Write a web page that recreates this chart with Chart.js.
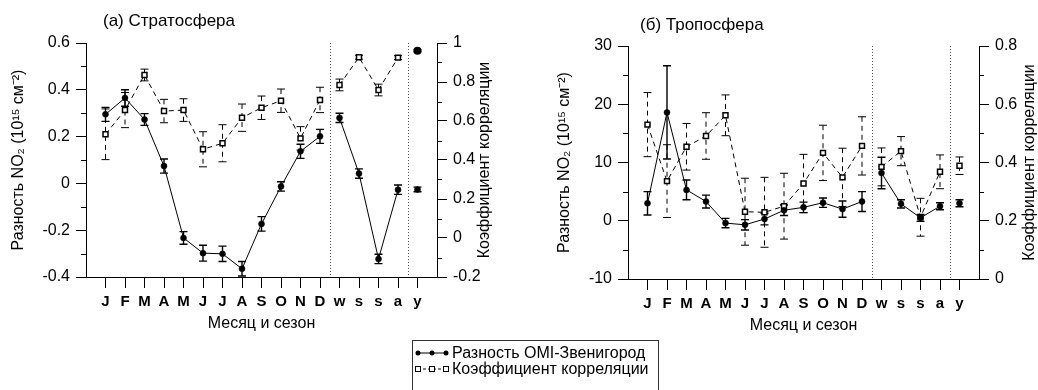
<!DOCTYPE html>
<html>
<head>
<meta charset="utf-8">
<script src="https://cdn.jsdelivr.net/npm/chart.js@4"></script>
<style>
  body { margin: 0; background: #fff; width: 1038px; height: 390px; position: relative; overflow: hidden;
         font-family: Arial, "Liberation Sans", sans-serif; }
  canvas { position: absolute; top: 0; }
  #left { left: 0; }
  #right { left: 546px; }
  #legend { position: absolute; left: 412px; top: 340px; width: 247px; height: 60px; border: 1px solid #333;
            box-sizing: border-box; padding-top: 4px; font-size: 16px; line-height: 16px; color: #000; }
  #legend div { display: flex; align-items: center; white-space: nowrap; }
  #legend svg { margin: 0 3px 0 2px; }
</style>
</head>
<body>
<canvas id="left" width="520" height="390"></canvas>
<canvas id="right" width="492" height="390"></canvas>
<div id="legend">
  <div><svg width="34" height="10"><line x1="3" y1="5" x2="31" y2="5" stroke="#000" stroke-width="1"/>
    <circle cx="3" cy="5" r="2.5"/><circle cx="17" cy="5" r="2.5"/><circle cx="31" cy="5" r="2.5"/></svg>Разность OMI-Звенигород</div>
  <div><svg width="34" height="10"><line x1="3" y1="5" x2="31" y2="5" stroke="#000" stroke-width="1" stroke-dasharray="3,2"/>
    <rect x="0.5" y="2.5" width="5" height="5" fill="#fff" stroke="#000"/><rect x="14.5" y="2.5" width="5" height="5" fill="#fff" stroke="#000"/><rect x="28.5" y="2.5" width="5" height="5" fill="#fff" stroke="#000"/></svg>Коэффициент корреляции</div>
</div>
<script>
const FONT = 'Arial, "Liberation Sans", sans-serif';
Chart.defaults.font.family = FONT;
Chart.defaults.color = '#000';

// categories: 12 months, 4 seasons, year
const categories = ['J', 'F', 'M', 'A', 'M', 'J', 'J', 'A', 'S', 'O', 'N', 'D', 'w', 's', 's', 'a', 'y'];
const separators = [12.5, 16.5];

// (a) stratosphere
const stratoDiffMonths = [0.295, 0.365, 0.273, 0.074, -0.233, -0.298, -0.301, -0.365, -0.173, -0.013, 0.137, 0.201];
const stratoDiffMonthsErr = [0.03, 0.035, 0.025, 0.03, 0.027, 0.034, 0.033, 0.031, 0.031, 0.02, 0.03, 0.03];
const stratoDiffSeasons = [0.28, 0.042, -0.323, -0.027];
const stratoDiffSeasonsErr = [0.02, 0.02, 0.02, 0.02];
const stratoDiffYear = -0.026;
const stratoDiffYearErr = 0.01;

const stratoCorrMonths = [0.532, 0.656, 0.836, 0.651, 0.656, 0.455, 0.486, 0.617, 0.668, 0.704, 0.511, 0.708];
const stratoCorrMonthsErr = [0.13, 0.09, 0.03, 0.06, 0.058, 0.09, 0.095, 0.07, 0.06, 0.06, 0.06, 0.065];
const stratoCorrSeasons = [0.785, 0.927, 0.759, 0.925];
const stratoCorrSeasonsErr = [0.03, 0.01, 0.03, 0.01];
const stratoCorrYear = 0.96;
const stratoCorrYearErr = 0.005;

const stratoDiffTicks = [-0.4, -0.2, 0, 0.2, 0.4, 0.6];
const stratoCorrTicks = [-0.2, 0, 0.2, 0.4, 0.6, 0.8, 1];

// (б) troposphere
const tropoDiffMonths = [3.0, 18.6, 5.3, 3.3, -0.4, -0.7, 0.3, 1.8, 2.3, 3.1, 2.0, 3.3];
const tropoDiffMonthsErr = [2.0, 8.0, 1.7, 1.1, 0.8, 0.9, 1.0, 0.9, 0.9, 0.8, 1.4, 1.7];
const tropoDiffSeasons = [8.2, 2.9, 0.5, 2.5];
const tropoDiffSeasonsErr = [2.7, 0.7, 0.6, 0.6];
const tropoDiffYear = 3.0;
const tropoDiffYearErr = 0.6;

const tropoCorrMonths = [0.53, 0.336, 0.454, 0.491, 0.562, 0.231, 0.229, 0.25, 0.328, 0.433, 0.349, 0.457];
const tropoCorrMonthsErr = [0.11, 0.125, 0.08, 0.08, 0.07, 0.115, 0.12, 0.113, 0.1, 0.095, 0.1, 0.1];
const tropoCorrSeasons = [0.385, 0.439, 0.212, 0.368];
const tropoCorrSeasonsErr = [0.065, 0.05, 0.065, 0.058];
const tropoCorrYear = 0.389;
const tropoCorrYearErr = 0.03;

const tropoDiffTicks = [-10, 0, 10, 20, 30];
const tropoCorrTicks = [0, 0.2, 0.4, 0.6, 0.8];

// months 1..12, gap, seasons 13..16, gap, year 17
function series(m, s, y) {
  return [...m.map((v, i) => ({ x: i + 1, y: v })), { x: 12.5, y: null },
          ...s.map((v, i) => ({ x: i + 13, y: v })), { x: 16.5, y: null }, { x: 17, y: y }];
}
function errs(m, s, y) { return [...m, null, ...s, null, y]; }

// major ticks from the list, unlabeled minor tick half way between
function axisTicks(major) {
  const out = [];
  major.forEach((v, i) => {
    out.push({ value: v });
    if (i < major.length - 1) out.push({ value: +((v + major[i + 1]) / 2).toFixed(4), sub: true });
  });
  return out;
}

const errorBars = {
  id: 'errorBars',
  beforeDatasetsDraw(chart) {
    const ctx = chart.ctx;
    chart.data.datasets.forEach((ds, i) => {
      const meta = chart.getDatasetMeta(i);
      const ys = chart.scales[ds.yAxisID];
      ctx.save();
      ctx.strokeStyle = '#000';
      ctx.lineWidth = ds.errWidth;
      meta.data.forEach((pt, j) => {
        const d = ds.data[j], e = ds.errors[j];
        if (d.y === null || e == null) return;
        const x = pt.x, top = ys.getPixelForValue(d.y + e), bot = ys.getPixelForValue(d.y - e);
        ctx.setLineDash(ds.errDash);
        ctx.beginPath(); ctx.moveTo(x, top); ctx.lineTo(x, bot); ctx.stroke();
        ctx.setLineDash([]);
        ctx.beginPath();
        ctx.moveTo(x - 4, top); ctx.lineTo(x + 4, top);
        ctx.moveTo(x - 4, bot); ctx.lineTo(x + 4, bot);
        ctx.stroke();
      });
      ctx.restore();
    });
  }
};

const decor = {
  id: 'decor',
  afterDraw(chart, args, o) {
    const ctx = chart.ctx, a = chart.chartArea;
    ctx.save();
    // separators between months / seasons / year
    ctx.strokeStyle = '#555';
    ctx.lineWidth = 1;
    ctx.setLineDash([1, 2]);
    separators.forEach(v => {
      const x = Math.round(chart.scales.x.getPixelForValue(v)) + 0.5;
      ctx.beginPath(); ctx.moveTo(x, a.top); ctx.lineTo(x, a.bottom); ctx.stroke();
    });
    ctx.setLineDash([]);
    // minor ticks, shorter than major ones
    ctx.strokeStyle = '#000';
    ['y', 'y1'].forEach(id => {
      const s = chart.scales[id];
      s.ticks.forEach(t => {
        if (!t.sub) return;
        const y = Math.round(s.getPixelForValue(t.value)) + 0.5;
        ctx.beginPath();
        if (s.position === 'left') { ctx.moveTo(a.left - 5, y); ctx.lineTo(a.left, y); }
        else { ctx.moveTo(a.right, y); ctx.lineTo(a.right + 5, y); }
        ctx.stroke();
      });
    });
    // panel title
    ctx.fillStyle = '#000';
    ctx.font = '17px ' + FONT;
    ctx.textBaseline = 'middle';
    ctx.textAlign = 'left';
    ctx.fillText(o.title, a.left + o.titleDx, o.titleY);
    // right axis title, reading bottom to top
    ctx.font = '16px ' + FONT;
    ctx.textAlign = 'center';
    ctx.translate(a.right + o.rightDx, (a.top + a.bottom) / 2);
    ctx.rotate(-Math.PI / 2);
    ctx.fillText('Коэффициент корреляции', 0, 0);
    ctx.restore();
  }
};

function yAxis(pos, min, max, major, width, title) {
  return {
    position: pos, min: min, max: max,
    afterBuildTicks: s => { s.ticks = axisTicks(major); },
    afterFit: s => { s.width = width; },
    ticks: {
      autoSkip: false, padding: 6, font: { size: 16 },
      callback: (v, i, t) => t[i].sub ? '' : String(v)
    },
    grid: {
      drawOnChartArea: false, tickLength: 10,
      tickColor: c => (c.tick && c.tick.sub) ? 'rgba(0,0,0,0)' : '#000'
    },
    border: { color: '#000', width: 1 },
    title: title ? { display: true, text: title, font: { size: 16 }, padding: { top: 9, bottom: 0 } } : { display: false }
  };
}

function panel(id, p) {
  const isYear = c => p.yearFilled && c.raw && c.raw.x === 17;
  new Chart(document.getElementById(id), {
    type: 'line',
    data: {
      datasets: [
        {
          label: 'Разность OMI-Звенигород',
          data: series(p.diffM, p.diffS, p.diffY),
          errors: errs(p.diffME, p.diffSE, p.diffYE),
          errWidth: 1.4, errDash: [],
          yAxisID: 'y',
          borderColor: '#000', borderWidth: 1,
          pointRadius: 3, pointBackgroundColor: '#000', pointBorderColor: '#000', pointBorderWidth: 0.5,
          spanGaps: false
        },
        {
          label: 'Коэффициент корреляции',
          data: series(p.corrM, p.corrS, p.corrY),
          errors: errs(p.corrME, p.corrSE, p.corrYE),
          errWidth: 1, errDash: [5, 4],
          yAxisID: 'y1',
          borderColor: '#000', borderWidth: 1, borderDash: [5, 4],
          pointStyle: c => isYear(c) ? 'circle' : 'rect',
          pointRadius: c => isYear(c) ? 3.3 : 3.5,
          pointBackgroundColor: c => isYear(c) ? '#000' : '#fff',
          pointBorderColor: '#000', pointBorderWidth: 1.5,
          spanGaps: false
        }
      ]
    },
    options: {
      responsive: false,
      animation: false,
      events: [],
      layout: { padding: { top: p.top, bottom: 390 - p.bottom - 60, left: 0, right: 0 } },
      scales: {
        x: {
          type: 'linear', min: 0, max: 18,
          afterBuildTicks: s => { s.ticks = Array.from({ length: 19 }, (_, i) => ({ value: i })); },
          afterFit: s => { s.height = 60; },
          ticks: {
            autoSkip: false, maxRotation: 0, padding: 5,
            font: { size: 15, weight: 'bold' },
            callback: v => categories[v - 1] || ''
          },
          grid: {
            drawOnChartArea: false, tickLength: 11,
            tickColor: c => (c.tick && c.tick.value >= 1 && c.tick.value <= 17) ? '#000' : 'rgba(0,0,0,0)'
          },
          border: { color: '#000', width: 1 },
          title: { display: true, text: 'Месяц и сезон', font: { size: 16 }, padding: { top: 0, bottom: 4 } }
        },
        y: yAxis('left', p.diffTicks[0], p.diffTicks[p.diffTicks.length - 1], p.diffTicks, p.leftW, 'Разность NO₂ (10¹⁵ см⁻²)'),
        y1: yAxis('right', p.corrTicks[0], p.corrTicks[p.corrTicks.length - 1], p.corrTicks, p.rightW, null)
      },
      plugins: {
        legend: { display: false },
        tooltip: { enabled: false },
        decor: { title: p.title, titleDx: p.titleDx, titleY: p.titleY, rightDx: p.rightDx }
      }
    },
    plugins: [errorBars, decor]
  });
}

panel('left', {
  title: '(a) Стратосфера', titleDx: 17, titleY: 21, rightDx: 48,
  top: 43, bottom: 277, leftW: 86, rightW: 83, yearFilled: true,
  diffM: stratoDiffMonths, diffME: stratoDiffMonthsErr, diffS: stratoDiffSeasons, diffSE: stratoDiffSeasonsErr,
  diffY: stratoDiffYear, diffYE: stratoDiffYearErr,
  corrM: stratoCorrMonths, corrME: stratoCorrMonthsErr, corrS: stratoCorrSeasons, corrSE: stratoCorrSeasonsErr,
  corrY: stratoCorrYear, corrYE: stratoCorrYearErr,
  diffTicks: stratoDiffTicks, corrTicks: stratoCorrTicks
});

panel('right', {
  title: '(б) Тропосфера', titleDx: 12, titleY: 25, rightDx: 51,
  top: 46, bottom: 279, leftW: 82, rightW: 59, yearFilled: false,
  diffM: tropoDiffMonths, diffME: tropoDiffMonthsErr, diffS: tropoDiffSeasons, diffSE: tropoDiffSeasonsErr,
  diffY: tropoDiffYear, diffYE: tropoDiffYearErr,
  corrM: tropoCorrMonths, corrME: tropoCorrMonthsErr, corrS: tropoCorrSeasons, corrSE: tropoCorrSeasonsErr,
  corrY: tropoCorrYear, corrYE: tropoCorrYearErr,
  diffTicks: tropoDiffTicks, corrTicks: tropoCorrTicks
});
</script>
</body>
</html>
